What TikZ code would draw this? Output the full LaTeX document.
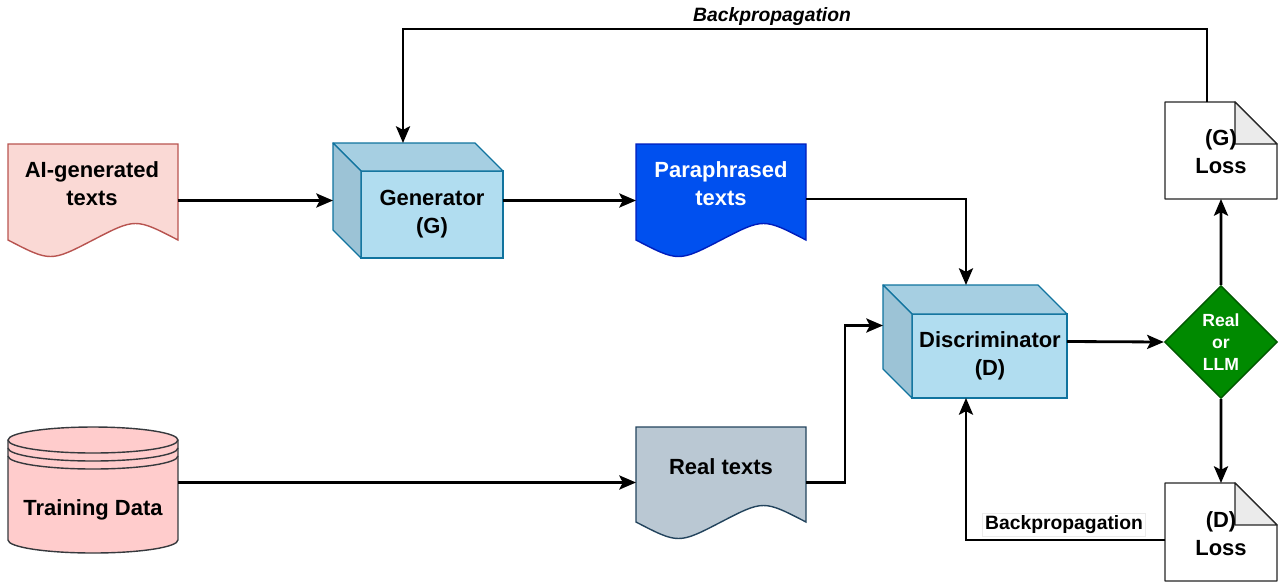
\documentclass[tikz,border=0pt]{standalone}
\usepackage{fontspec}
\setmainfont{Liberation Sans}
\usetikzlibrary{arrows.meta,shapes.geometric,calc}
\definecolor{aifill}{HTML}{FAD9D5}
\definecolor{aidraw}{HTML}{B85450}
\definecolor{cubefront}{HTML}{B1DDF0}
\definecolor{cubetop}{HTML}{A6CFE2}
\definecolor{cubeside}{HTML}{9CC3D6}
\definecolor{cubedraw}{HTML}{10739E}
\definecolor{parafill}{HTML}{0050EF}
\definecolor{paradraw}{HTML}{001DBC}
\definecolor{realfill}{HTML}{BAC8D3}
\definecolor{realdraw}{HTML}{23445D}
\definecolor{trainfill}{HTML}{FFCCCC}
\definecolor{traindraw}{HTML}{36393D}
\definecolor{diafill}{HTML}{008A00}
\definecolor{diadraw}{HTML}{005700}
\definecolor{foldfill}{HTML}{EBEBEB}
\newcommand\docshape[5]{%
  \draw[#5] (#1,#2) -- (#3,#2) -- (#3,#4)
    .. controls ({#3-(#3-#1)/4},{#4-22}) .. ({(#1+#3)/2},#4)
    .. controls ({#1+(#3-#1)/4},{#4+22}) .. (#1,#4) -- cycle;}
\newcommand\cubeshape[5]{%
  \draw[cubedraw, fill=cubefront, line width=0.7pt] ({#1+#5},{#2+#5}) rectangle (#3,#4);
  \draw[cubedraw, fill=cubetop, line width=0.7pt, line join=round] (#1,#2) -- ({#3-#5},#2) -- (#3,{#2+#5}) -- ({#1+#5},{#2+#5}) -- cycle;
  \draw[cubedraw, fill=cubeside, line width=0.7pt, line join=round] (#1,#2) -- ({#1+#5},{#2+#5}) -- ({#1+#5},#4) -- (#1,{#4-#5}) -- cycle;}
\newcommand\noteshape[5]{%
  \draw[black!85, fill=white, line width=0.8pt, line join=round] (#1,#2) -- ({#3-#5},#2) -- (#3,{#2+#5}) -- (#3,#4) -- (#1,#4) -- cycle;
  \draw[black!85, fill=foldfill, line width=0.8pt, line join=round] ({#3-#5},#2) -- ({#3-#5},{#2+#5}) -- (#3,{#2+#5}) -- cycle;}
\begin{document}
\begin{tikzpicture}[x=0.02cm, y=-0.02cm,
  hold/.style={inner sep=0pt, outer sep=0pt, anchor=north west},
  lbl/.style={font=\fontsize{12.5}{16}\selectfont\bfseries, align=center, inner sep=0pt},
  arr/.style={line width=1.6pt, -{Stealth[length=9.5pt, width=8pt, inset=2pt]}},
  bp/.style={font=\fontsize{11}{13}\selectfont\bfseries, fill=white, draw=black!8, inner sep=1.5pt}]
\useasboundingbox (0,0) rectangle (1282,583);

% shapes
\docshape{8}{144}{178}{240}{aidraw, fill=aifill, line width=0.8pt}
\docshape{636}{144}{806}{240}{paradraw, fill=parafill, line width=0.8pt}
\docshape{636}{427}{806}{522}{realdraw, fill=realfill, line width=0.8pt}
\cubeshape{333}{143}{503}{258}{28}
\cubeshape{883}{285}{1067}{398}{29}
\noteshape{1165}{102}{1277}{199}{42}
\noteshape{1165}{483}{1277}{581}{42}
% training data cylinder
\draw[traindraw, fill=trainfill, line width=0.8pt] (8,440) -- (8,540)
  arc[start angle=180, end angle=360, x radius=1.7cm, y radius=0.26cm] -- (178,440)
  arc[start angle=0, end angle=180, x radius=1.7cm, y radius=0.26cm] -- cycle;
\draw[traindraw, line width=0.8pt] (8,440) arc[start angle=180, end angle=360, x radius=1.7cm, y radius=0.26cm];
\draw[traindraw, line width=0.8pt] (8,448) arc[start angle=180, end angle=360, x radius=1.7cm, y radius=0.26cm];
\draw[traindraw, line width=0.8pt] (8,456) arc[start angle=180, end angle=360, x radius=1.7cm, y radius=0.26cm];

% holder nodes
\node[hold, minimum width=3.4cm, minimum height=2.2cm] (ai) at (8,144) {};
\node[hold, minimum width=3.4cm, minimum height=2.2cm] (para) at (636,144) {};
\node[hold, minimum width=3.4cm, minimum height=2.22cm] (real) at (636,427) {};
\node[hold, minimum width=3.4cm, minimum height=2.56cm] (train) at (8,427) {};
\node[hold, minimum width=3.4cm, minimum height=2.3cm] (gen) at (333,143) {};
\node[hold, minimum width=3.68cm, minimum height=2.26cm] (disc) at (883,285) {};
\node[hold, minimum width=2.24cm, minimum height=1.94cm] (gloss) at (1165,102) {};
\node[hold, minimum width=2.24cm, minimum height=1.96cm] (dloss) at (1165,483) {};
\node[shape=diamond, draw=diadraw, fill=diafill, line width=0.8pt, inner sep=0pt,
  minimum width=2.26cm, minimum height=2.26cm] (dia) at (1221,342) {};

% texts
\node[lbl] (tai) at (92,184) {AI-generated\\texts};
\node[lbl, text=white] (tpara) at (721,184) {Paraphrased\\texts};
\node[lbl] (treal) at (721,467) {Real texts};
\node[lbl] (ttrain) at (93,510) {Training Data};
\node[lbl] (tgen) at (432,214) {Generator\\(G)};
\node[lbl] (tdisc) at (990,356) {Discriminator\\(D)};
\node[lbl] (tgloss) at (1221,152) {(G)\\Loss};
\node[lbl] (tdloss) at (1221,534) {(D)\\Loss};
\node[font=\fontsize{10}{12.5}\selectfont\bfseries, text=white, align=center, inner sep=0pt] (tdia) at (dia.center) {Real\\or\\LLM};

% connectors
\draw[arr] (gen.west -| ai.east) -- (gen.west);
\draw[arr] (gen.east) -- (gen.east -| para.west);
\draw[arr] (para.east) -| ($(disc.north)+(-9,0)$);
\draw[arr] (train.east |- real.west) -- (real.west);
\draw[arr] (real.east) -- ++(39,0) |- ($(disc.west)+(0,-16)$);
\draw[arr] (disc.east) -- (dia.west);
\draw[arr] (dia.north) -- (gloss.south);
\draw[arr] (dia.south) -- (dloss.north);
\draw[arr] ($(gloss.north west)+(42,0)$) -- ++(0,-73) -| ($(gen.north west)+(70,0)$);
\draw[arr] ($(dloss.west)+(0,8)$) -| ($(disc.south)+(-9,0)$);

% labels
\node[bp, font=\fontsize{11}{13}\selectfont\bfseries\itshape, draw=none] (bptop) at (772,16) {Backpropagation};
\node[bp] (bpbot) at (1064,525) {Backpropagation};
\end{tikzpicture}
\end{document}
